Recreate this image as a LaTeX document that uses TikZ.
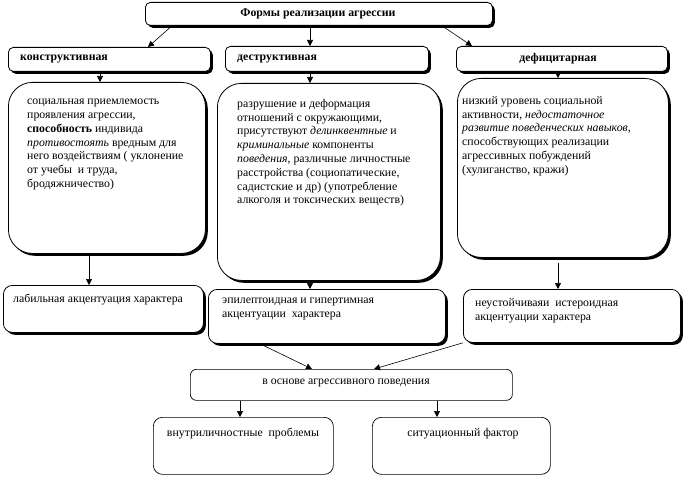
\documentclass[tikz,border=0pt]{standalone}
\usepackage{fontspec}
\setmainfont{Liberation Serif}
\usetikzlibrary{shadows,arrows.meta,calc}
\begin{document}
\begin{tikzpicture}[x=1pt,y=-1pt,
  sbox/.style={draw, line width=0.8pt, rounded corners=5pt, fill=white, inner sep=0pt, anchor=north west,
    drop shadow={shadow xshift=2.4pt, shadow yshift=-2.4pt, fill=black, opacity=1}},
  bigbox/.style={sbox, rounded corners=24pt},
  pbox/.style={draw, line width=0.7pt, rounded corners=6pt, fill=white, inner sep=0pt, anchor=north west},
  txt/.style={inner sep=0pt, align=left, anchor=north west, font=\fontsize{11.8}{13.8}\selectfont},
  lbl/.style={inner sep=0pt, font=\fontsize{11.8}{13}\selectfont\bfseries},
  arr/.style={-{Triangle[width=6pt,length=6pt]}, line width=0.6pt},
  ln/.style={line width=0.6pt}]
\useasboundingbox (0,0) rectangle (684,478);

% top
\node[sbox, minimum width=347pt, minimum height=23pt] (top) at (145,2) {};
\node[lbl] (topt) at (318,14) {Формы реализации агрессии};

% level 2
\node[sbox, minimum width=202pt, minimum height=24pt] (k) at (8,47) {};
\node[lbl, anchor=west] (kt) at (20,59) {конструктивная};
\node[sbox, minimum width=203pt, minimum height=25pt] (d) at (225,46) {};
\node[lbl, anchor=west] (dt) at (237,59) {деструктивная};
\node[sbox, minimum width=211pt, minimum height=25pt] (f) at (456,46) {};
\node[lbl] (ft) at (558,59) {дефицитарная};

% level 3
\node[bigbox, minimum width=197pt, minimum height=171pt] (b1) at (8,82) {};
\node[txt] (b1t) at (27,99) {социальная приемлемость\\
проявления агрессии,\\
\textbf{способность} индивида\\
\textit{противостоять} вредным для\\
него воздействиям ( уклонение\\
от учебы \ и труда,\\
бродяжничество)};
\node[bigbox, minimum width=223pt, minimum height=197pt] (b2) at (217,83) {};
\node[txt] (b2t) at (237,99) {разрушение и деформация\\
отношений с окружающими,\\
присутствуют \textit{делинквентные} и\\
\textit{криминальные} компоненты\\
\textit{поведения}, различные личностные\\
расстройства (социопатические,\\
садистские и др) (употребление\\
алкоголя и токсических веществ)};
\node[bigbox, minimum width=211pt, minimum height=179pt] (b3) at (457,78) {};
\node[txt] (b3t) at (462,96) {низкий уровень социальной\\
активности, \textit{недостаточное}\\
\textit{развитие поведенческих навыков},\\
способствующих реализации\\
агрессивных побуждений\\
(хулиганство, кражи)};

% level 4
\node[sbox, rounded corners=9pt, minimum width=200pt, minimum height=47pt] (l1) at (3,285) {};
\node[txt] (l1t) at (13,294) {лабильная акцентуация характера};
\node[sbox, rounded corners=9pt, minimum width=237pt, minimum height=54pt] (l2) at (208,289) {};
\node[txt] (l2t) at (222,298) {эпилептоидная и гипертимная\\акцентуации \ характера};
\node[sbox, rounded corners=9pt, minimum width=217pt, minimum height=53pt] (l3) at (463,289) {};
\node[txt] (l3t) at (475,298) {неустойчиваяи \ истероидная\\акцентуации характера};

% bottom
\node[pbox, minimum width=322pt, minimum height=31pt] (base) at (190,369) {};
\node[txt, anchor=center] (baset) at (346,383) {в основе агрессивного поведения};
\node[pbox, rounded corners=9pt, minimum width=180pt, minimum height=57pt] (p1) at (153,417) {};
\node[txt, anchor=center] (p1t) at (243,434) {внутриличностные \ проблемы};
\node[pbox, rounded corners=9pt, minimum width=178pt, minimum height=57pt] (p2) at (372,417) {};
\node[txt, anchor=center] (p2t) at (463,434) {ситуационный фактор};

% connectors
\draw[arr] ([xshift=27pt]top.south west) -- ([xshift=140pt]k.north west);
\draw[arr] ([xshift=165pt]top.south west) -- ([xshift=85pt]d.north west);
\draw[arr] ([xshift=297pt]top.south west) -- ([xshift=16pt]f.north west);
\draw[arr] ([xshift=92pt]k.south west) -- ([xshift=92pt]b1.north west);
\draw[arr] ([xshift=85pt]d.south west) -- ([xshift=93pt]b2.north west);
\draw[arr] ([xshift=102pt]f.south west) -- ([xshift=101pt]b3.north west);
\draw[arr] ([xshift=81pt,yshift=-2pt]b1.south west) -- ([xshift=86pt]l1.north west);
\draw[arr] ([xshift=93pt]b2.south west) -- ([xshift=102pt]l2.north west);
\draw[arr] ([xshift=101pt,yshift=-5pt]b3.south west) -- ([xshift=95pt]l3.north west);
\draw[arr] ([xshift=52pt]l2.south west) -- ([xshift=122pt]base.north west);
\draw[arr] (l3.south west) -- ([xshift=184pt]base.north west);
\draw[arr] ([xshift=50pt]base.south west) -- ([xshift=87pt]p1.north west);
\draw[arr] ([xshift=247pt]base.south west) -- ([xshift=65pt]p2.north west);
\end{tikzpicture}
\end{document}
